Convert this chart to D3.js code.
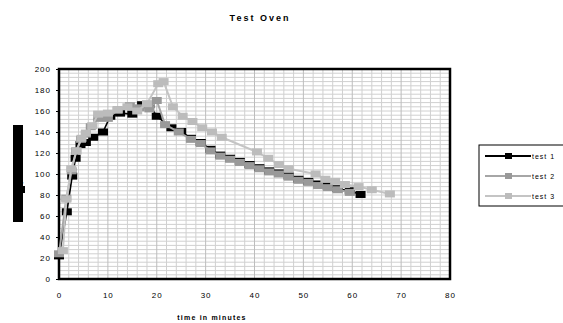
<!DOCTYPE html>
<meta charset="utf-8">
<style>
  body { margin: 0; background: white; }
  text { font-family: "Liberation Sans", Arial, sans-serif; fill: #000; }
  .tick text { font-size: 8px; letter-spacing: 1px; }
</style>
<body>
<script src="https://d3js.org/d3.v7.min.js"></script>
<script>
var width = 563, height = 323;

// series: [minutes, temperature]
var test1 = [[0,22],[1.6,64],[2.7,98],[3.4,115],[4.4,128],[5.5,130],[7,135],[9,140],[10.5,155],[12.5,158],[15,157],[17,166],[18.5,166],[20,155],[23,144],
  [25,140.5],[27,134],[29,130],[31,123.5],[33,118],[35,115],[37,112],[39,109],[41,106],[43,103],[45,101],[47,98],[49,95],[51,93],[53,90.5],[55,88.5],[57,86],[59.5,84],[61.7,80.5]];
var test2 = [[0,24],[1.5,77],[2.6,103],[3.5,122],[4.5,133],[5.5,138],[6.5,145],[8,153],[10,153],[12,161],[14.5,165],[16.5,163],[18.5,162],[20,170],[21.7,147],
  [24.5,140],[27,133],[29,129],[31,122],[33,117],[35,114],[37,111],[39,108],[41,105],[43,102],[45,100],[47,97],[49,94],[51,92],[53,89],[55,87],[57,85],[59.5,82.5]];
var test3 = [[0.8,27],[1.5,76],[2.5,105],[3.6,122],[4.6,134],[5.5,139],[6.8,146],[8,157],[10,158],[12,161],[14,164],[16,160],[18,167],[20.3,186],[21.4,188],[23.3,164],
  [25.3,155],[27.3,150],[29.3,144],[31.3,140],[33.3,135],[40.5,121],[42.8,115],[45,109],[47,105],[52.5,100],[54.5,95],[56.5,93],[58.5,90],[61.3,88],[64,85],[67.7,81]];

var seriesNames = ["test 1", "test 2", "test 3"];
var seriesData = [test1, test2, test3];
var lineColors = ["#000000", "#a6a6a6", "#c4c4c4"];
var markColors = ["#000000", "#999999", "#bcbcbc"];

var xTicks = d3.range(0, 81, 10);
var yTicks = d3.range(0, 201, 20);

var svg = d3.select("body").append("svg")
  .attr("width", width)
  .attr("height", height);

var x = d3.scaleLinear().domain([0, 80]).range([59, 450]);
var y = d3.scaleLinear().domain([0, 200]).range([279, 69]);

// title
svg.append("text")
  .attr("x", 260).attr("y", 21)
  .attr("text-anchor", "middle")
  .style("font-size", "9px").style("font-weight", "bold").style("letter-spacing", "2px")
  .text("Test Oven");

// grid
svg.append("g").selectAll("line")
  .data(d3.range(0, 201, 4))
  .enter().append("line")
  .attr("x1", x(0)).attr("x2", x(80))
  .attr("y1", function(d) { return y(d); }).attr("y2", function(d) { return y(d); })
  .attr("stroke", "#d0d0d0").attr("stroke-width", 1);

svg.append("g").selectAll("line")
  .data(d3.range(0, 81, 2))
  .enter().append("line")
  .attr("y1", y(0)).attr("y2", y(200))
  .attr("x1", function(d) { return x(d); }).attr("x2", function(d) { return x(d); })
  .attr("stroke", function(d) { return d % 10 == 0 ? "#bdbdbd" : "#d0d0d0"; })
  .attr("stroke-width", 1);

// frame
svg.append("rect")
  .attr("x", x(0)).attr("y", y(200))
  .attr("width", x(80) - x(0)).attr("height", y(0) - y(200))
  .attr("fill", "none").attr("stroke", "#000").attr("stroke-width", 2.5);

// axes
var xAxis = svg.append("g")
  .attr("transform", "translate(0," + y(0) + ")")
  .call(d3.axisBottom(x).tickValues(xTicks).tickSize(0).tickPadding(13));
var yAxis = svg.append("g")
  .attr("transform", "translate(" + x(0) + ",0)")
  .call(d3.axisLeft(y).tickValues(yTicks).tickSize(3).tickPadding(5));
svg.selectAll(".domain").remove();
yAxis.selectAll(".tick line").attr("stroke", "#000");

svg.append("text")
  .attr("x", 212).attr("y", 320)
  .attr("text-anchor", "middle")
  .style("font-size", "7px").style("font-weight", "bold").style("letter-spacing", "1.2px")
  .text("time in minutes");

// y title (renders as a solid bar in the original)
svg.append("rect").attr("x", 13).attr("y", 125).attr("width", 10).attr("height", 97).attr("fill", "#000");
svg.append("rect").attr("x", 22).attr("y", 186).attr("width", 3).attr("height", 7).attr("fill", "#000");
svg.append("text")
  .attr("transform", "translate(21,174) rotate(-90)")
  .attr("text-anchor", "middle")
  .style("font-size", "9px").style("font-weight", "bold")
  .text("temperature");

// series
var line = d3.line().x(function(d) { return x(d[0]); }).y(function(d) { return y(d[1]); });

seriesData.forEach(function(data, i) {
  var g = svg.append("g");
  g.append("path")
    .datum(data)
    .attr("d", line)
    .attr("fill", "none")
    .attr("stroke", lineColors[i])
    .attr("stroke-width", i == 0 ? 1.6 : 2);
  g.selectAll("rect")
    .data(data)
    .enter().append("rect")
    .attr("x", function(d) { return x(d[0]) - 5; })
    .attr("y", function(d) { return y(d[1]) - 3.5; })
    .attr("width", 10).attr("height", 7)
    .attr("fill", markColors[i]);
});

// legend
var legend = svg.append("g");
legend.append("rect")
  .attr("x", 479).attr("y", 145).attr("width", 90).attr("height", 61)
  .attr("fill", "white").attr("stroke", "#000").attr("stroke-width", 1);

var rows = legend.selectAll("g.row")
  .data(seriesNames)
  .enter().append("g")
  .attr("class", "row")
  .attr("transform", function(d, i) { return "translate(0," + (156 + i * 20) + ")"; });
rows.append("line")
  .attr("x1", 485).attr("x2", 531).attr("y1", 0).attr("y2", 0)
  .attr("stroke", function(d, i) { return lineColors[i]; }).attr("stroke-width", 2);
rows.append("rect")
  .attr("x", 505).attr("y", -3).attr("width", 7).attr("height", 6)
  .attr("fill", function(d, i) { return markColors[i]; });
rows.append("text")
  .attr("x", 532).attr("y", 3)
  .style("font-size", "7px").style("letter-spacing", "1px")
  .text(function(d) { return d; });
</script>
</body>
